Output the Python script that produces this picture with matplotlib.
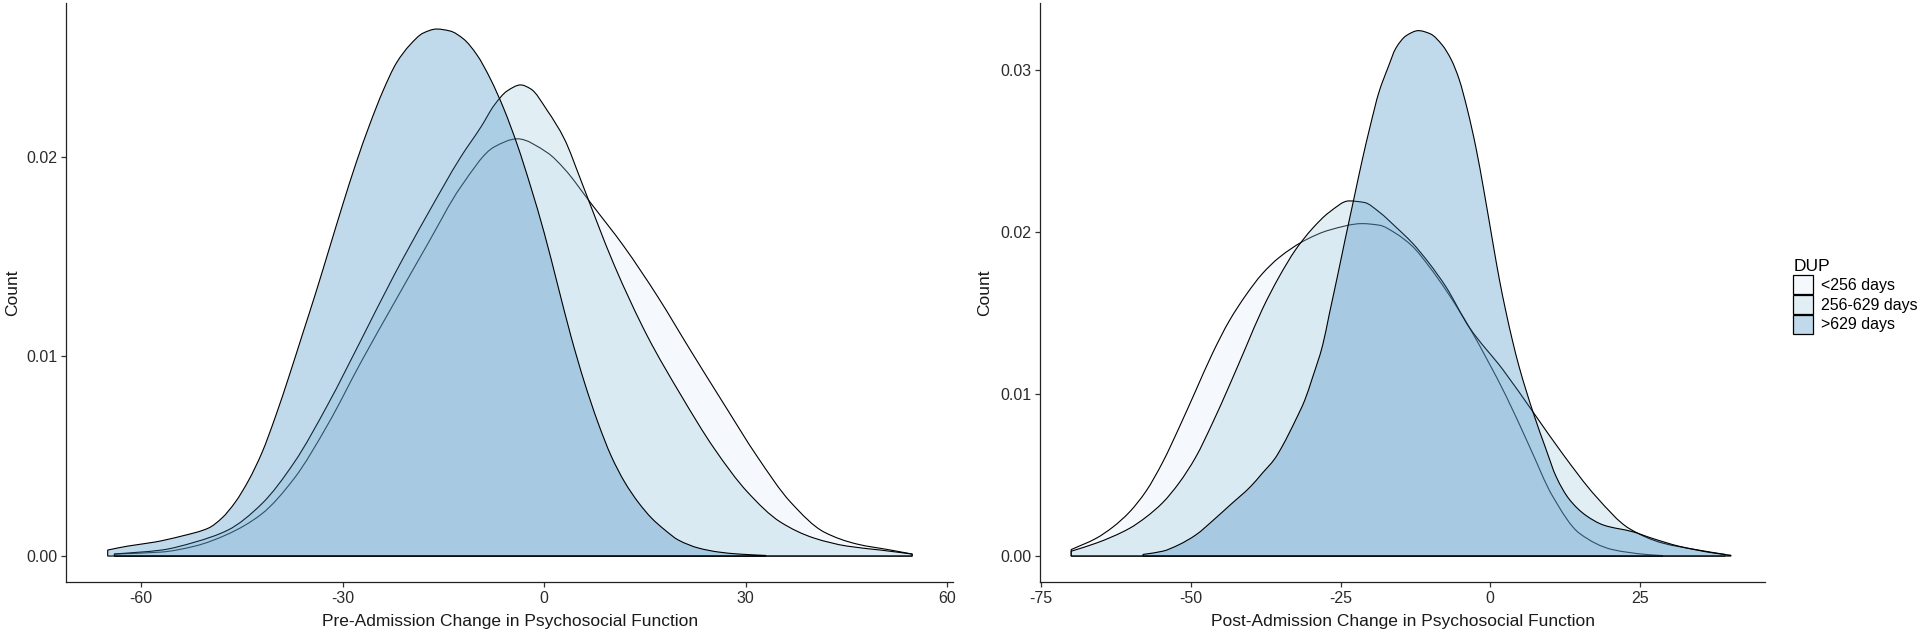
import matplotlib
matplotlib.use("Agg")
import matplotlib.pyplot as plt
import numpy as np
from matplotlib.patches import Patch, PathPatch
from matplotlib.path import Path
from matplotlib.colors import to_rgba

plt.rcParams['font.family'] = ['Liberation Sans', 'DejaVu Sans']

groups = ["<256 days", "256-629 days", ">629 days"]
fills = ["#DEEBF7", "#9ECAE1", "#3182BD"]

# pre-admission panel: density values
pre_lt256_x = [-64, -57, -52, -47.1, -42.1, -37.2, -32.2, -27.3, -22.3, -17.4, -12.4, -7.4, -4,
               0.5, 3.0, 6.9, 11.9, 16.9, 21.8, 26.8, 31.7, 36.7, 41.7, 46.6, 51.6, 54.8]
pre_lt256_y = [0.0001, 0.0002, 0.0005, 0.0011, 0.0021, 0.0039, 0.0066, 0.0097, 0.0127, 0.0156, 0.0185, 0.0205, 0.0209,
               0.0202, 0.0194, 0.0177, 0.0155, 0.0130, 0.0103, 0.0076, 0.0050, 0.0027, 0.0012, 0.0006, 0.0003, 0.0001]

pre_mid_x = [-64, -57, -52, -47.1, -42.1, -37.2, -32.2, -27.3, -22.3, -17.4, -12.4, -9.4, -7.4, -5.5, -3.5,
             -2, 0.5, 3.0, 5.5, 7.9, 10.4, 15.4, 20.3, 25.3, 30.3, 35.2, 40.2, 45.1, 50.1, 54.8]
pre_mid_y = [0.0001, 0.0003, 0.0007, 0.0013, 0.0026, 0.0047, 0.0076, 0.0108, 0.0141, 0.0171, 0.0200, 0.0215, 0.0226, 0.0233, 0.0236,
             0.0234, 0.0223, 0.0209, 0.0188, 0.0167, 0.0146, 0.0110, 0.0081, 0.0054, 0.0032, 0.0017, 0.0009, 0.0005, 0.0003, 0.0001]

pre_gt629_x = [-65, -62, -58, -54, -50, -48, -46, -44, -42, -40, -38, -36, -34, -32, -30, -28, -26, -24, -22, -20,
               -18, -16, -14, -12, -10, -8, -6, -4, -2, 0, 2, 4, 6, 8, 10, 12, 14, 16, 18, 20, 23, 26, 29, 33]
pre_gt629_y = [0.0003, 0.0005, 0.0007, 0.0010, 0.0014, 0.0019, 0.0027, 0.0038, 0.0052, 0.0070, 0.0090, 0.0111, 0.0132,
               0.0154, 0.0176, 0.0197, 0.0216, 0.0233, 0.0247, 0.0256, 0.0262, 0.0264, 0.0263, 0.0259, 0.0251, 0.0239,
               0.0224, 0.0206, 0.0185, 0.0162, 0.0136, 0.0110, 0.0087, 0.0067, 0.0050, 0.0037, 0.0027, 0.0019, 0.0013,
               0.0008, 0.0004, 0.0002, 0.0001, 0.00003]

# post-admission panel
post_lt256_x = [-70, -65.8, -63, -60.3, -57.5, -54.7, -52, -49.2, -46.4, -43.6, -40.8, -38.1, -35.3, -30.8, -26.9,
                -21.4, -18.5, -15.8, -13.0, -10.3, -7.4, -3.5, -0.5, 2.6, 6.5, 10.4, 14.9, 20.4, 26.0, 28.8]
post_lt256_y = [0.0004, 0.0011, 0.0018, 0.0027, 0.0040, 0.0058, 0.0079, 0.0102, 0.0125, 0.0145, 0.0161, 0.0174, 0.0184,
                0.0195, 0.0201, 0.0205, 0.0204, 0.0199, 0.0191, 0.0179, 0.0164, 0.0141, 0.0121, 0.0099, 0.0068, 0.0037,
                0.0014, 0.0004, 0.0001, 0.00003]

post_mid_x = [-70, -65.8, -60.3, -57.5, -54.7, -52, -49.2, -46.4, -43.6, -40.8, -38.1, -35.3, -32.5, -29.7, -26.9,
              -23.6, -21, -18.5, -15.8, -13.0, -10.3, -7.4, -3.5, 2.1, 7.3, 12.1, 17.6, 23.2, 28.8, 34.3, 39.2]
post_mid_y = [0.0003, 0.0008, 0.0017, 0.0024, 0.0033, 0.0045, 0.0061, 0.0082, 0.0105, 0.0129, 0.0152, 0.0172, 0.0189,
              0.0202, 0.0212, 0.0219, 0.0218, 0.0212, 0.0203, 0.0193, 0.0181, 0.0166, 0.0141, 0.0115, 0.0088, 0.0063,
              0.0037, 0.0017, 0.0008, 0.0004, 0.0001]

post_gt629_x = [-58, -54.7, -52, -49.2, -46, -43.6, -40, -38.1, -36, -34.7, -32.5, -31, -29.7, -28, -26.9, -25.5,
                -24.2, -22.8, -21.4, -20, -18.6, -17, -15.8, -14, -12, -10, -8, -6.5, -5.2, -3.8, -2.4, -1, 0.4, 1.5,
                2.6, 3.7, 4.8, 6.0, 7.3, 9.3, 11.0, 13.2, 16.0, 19, 23.8, 27, 31.6, 37.1, 40.2]
post_gt629_y = [0.0001, 0.0003, 0.0007, 0.0013, 0.0023, 0.0031, 0.0043, 0.0051, 0.0060, 0.0068, 0.0084, 0.0096, 0.0110,
                0.0130, 0.0149, 0.0173, 0.0196, 0.0220, 0.0244, 0.0266, 0.0286, 0.0302, 0.0313, 0.0321, 0.0324, 0.0322,
                0.0315, 0.0306, 0.0294, 0.0275, 0.0252, 0.0224, 0.0194, 0.0171, 0.0151, 0.0133, 0.0117, 0.0102, 0.0087,
                0.0066, 0.0049, 0.0035, 0.0025, 0.0019, 0.0015, 0.0011, 0.0006, 0.0002, 0.00005]

pre_curves = [(pre_lt256_x, pre_lt256_y), (pre_mid_x, pre_mid_y), (pre_gt629_x, pre_gt629_y)]
post_curves = [(post_lt256_x, post_lt256_y), (post_mid_x, post_mid_y), (post_gt629_x, post_gt629_y)]

pre_xticks = [-60, -30, 0, 30, 60]
pre_yticks = [0.00, 0.01, 0.02]
post_xticks = [-75, -50, -25, 0, 25]
post_yticks = [0.00, 0.01, 0.02, 0.03]


def smooth_area(xs, ys):
    # closed path: monotone cubic bezier through the read points, then back along the baseline
    x = np.asarray(xs, float)
    y = np.asarray(ys, float)
    h = np.diff(x)
    d = np.diff(y) / h
    m = np.zeros_like(y)
    m[0], m[-1] = d[0], d[-1]
    for i in range(1, len(y) - 1):
        if d[i - 1] * d[i] > 0:
            w1 = 2 * h[i] + h[i - 1]
            w2 = h[i] + 2 * h[i - 1]
            m[i] = (w1 + w2) / (w1 / d[i - 1] + w2 / d[i])
    verts = [(x[0], 0.0), (x[0], y[0])]
    codes = [Path.MOVETO, Path.LINETO]
    for i in range(len(x) - 1):
        verts += [(x[i] + h[i] / 3, y[i] + m[i] * h[i] / 3),
                  (x[i + 1] - h[i] / 3, y[i + 1] - m[i + 1] * h[i] / 3),
                  (x[i + 1], y[i + 1])]
        codes += [Path.CURVE4] * 3
    verts += [(x[-1], 0.0), (x[0], 0.0)]
    codes += [Path.LINETO, Path.CLOSEPOLY]
    return Path(verts, codes)


fig = plt.figure(figsize=(19.2, 6.39), dpi=100)
ax1 = fig.add_axes([0.0344, 0.0892, 0.462, 0.906])
ax2 = fig.add_axes([0.5417, 0.0892, 0.3776, 0.906])


def draw_panel(ax, curves, xticks, yticks, xlim, ylim, xlabel, ylab_x):
    for (xs, ys), c in zip(curves, fills):
        ax.add_patch(PathPatch(smooth_area(xs, ys), facecolor=to_rgba(c, 0.3),
                               edgecolor="black", linewidth=0.8))
    ax.set_xlim(xlim)
    ax.set_ylim(ylim)
    ax.set_xticks(xticks)
    ax.set_xticklabels([str(t) for t in xticks])
    ax.set_yticks(yticks)
    ax.set_yticklabels(["%.2f" % t for t in yticks])
    for s in ["top", "right"]:
        ax.spines[s].set_visible(False)
    for s in ["left", "bottom"]:
        ax.spines[s].set_linewidth(0.9)
        ax.spines[s].set_color("#222222")
    ax.tick_params(length=3.5, width=0.9, color="#333333", labelsize=11.5, labelcolor="#2b2b2b", pad=3)
    ax.set_xlabel(xlabel, fontsize=12.5, color="#1a1a1a", labelpad=6)
    ax.set_ylabel("Count", fontsize=12.5, color="#1a1a1a")
    ax.yaxis.set_label_coords(ylab_x, 0.5)


draw_panel(ax1, pre_curves, pre_xticks, pre_yticks, (-71.2, 60.9), (-0.0013, 0.0277),
           "Pre-Admission Change in Psychosocial Function", -0.052)
draw_panel(ax2, post_curves, post_xticks, post_yticks, (-75.2, 45.9), (-0.0016, 0.0341),
           "Post-Admission Change in Psychosocial Function", -0.066)

handles = [Patch(facecolor=to_rgba(c, 0.3), edgecolor="black", linewidth=0.9) for c in fills]
leg = fig.legend(handles, groups, loc="upper left", bbox_to_anchor=(1787 / 1920, 1 - 253 / 639),
                 title="DUP", frameon=False, fontsize=11.5, title_fontsize=12.5,
                 handlelength=1.25, handleheight=1.45, labelspacing=0.05, handletextpad=0.5,
                 borderaxespad=0, alignment="left")

fig.savefig("out.png", dpi=100)
